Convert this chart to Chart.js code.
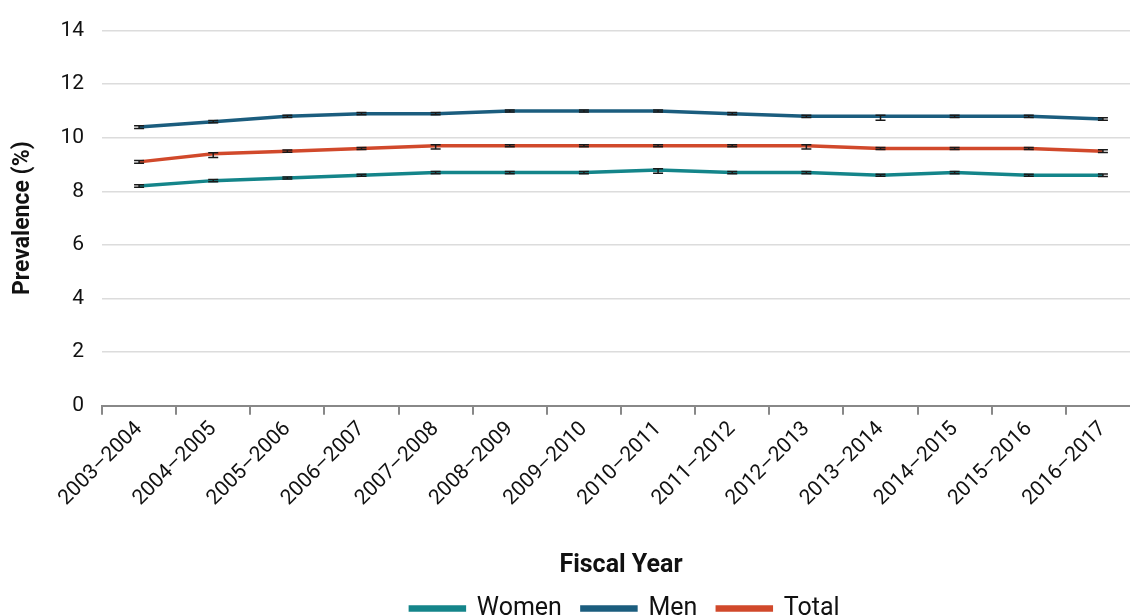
<!DOCTYPE html>
<html><head><meta charset="utf-8">
<script src="https://cdn.jsdelivr.net/npm/chart.js@4.4.1/dist/chart.umd.min.js"></script>
<style>html,body{margin:0;padding:0;overflow:hidden;background:#fff}#wrap{width:1240px;height:615px}</style>
</head><body><div id="wrap"><canvas id="c"></canvas></div>
<script>
const categories = ["2003–2004","2004–2005","2005–2006","2006–2007","2007–2008","2008–2009","2009–2010","2010–2011","2011–2012","2012–2013","2013–2014","2014–2015","2015–2016","2016–2017"];
const women = [8.2,8.4,8.5,8.6,8.7,8.7,8.7,8.8,8.7,8.7,8.6,8.7,8.6,8.6];
const men   = [10.4,10.6,10.8,10.9,10.9,11.0,11.0,11.0,10.9,10.8,10.8,10.8,10.8,10.7];
const total = [9.1,9.4,9.5,9.6,9.7,9.7,9.7,9.7,9.7,9.7,9.6,9.6,9.6,9.5];
const womenLow  = [8.15,8.36,8.46,8.56,8.66,8.66,8.66,8.68,8.66,8.66,8.56,8.66,8.56,8.55];
const womenHigh = [8.25,8.44,8.54,8.64,8.74,8.74,8.74,8.84,8.74,8.74,8.64,8.74,8.64,8.65];
const menLow    = [10.35,10.56,10.76,10.86,10.86,10.96,10.96,10.96,10.86,10.76,10.65,10.76,10.76,10.65];
const menHigh   = [10.45,10.64,10.84,10.94,10.94,11.04,11.04,11.04,10.94,10.84,10.84,10.84,10.84,10.75];
const totalLow  = [9.05,9.26,9.46,9.56,9.58,9.66,9.66,9.66,9.66,9.58,9.56,9.56,9.56,9.45];
const totalHigh = [9.15,9.44,9.54,9.64,9.74,9.74,9.74,9.74,9.74,9.74,9.64,9.64,9.64,9.55];
const yTicks = [0,2,4,6,8,10,12,14];

const errs = [[womenLow,womenHigh],[menLow,menHigh],[totalLow,totalHigh]];
const errorBars = {
  id:'errorBars',
  afterDatasetsDraw(chart){
    const ctx = chart.ctx, y = chart.scales.y;
    ctx.save();
    ctx.strokeStyle = '#1a1a1a'; ctx.lineWidth = 1.5;
    chart.data.datasets.forEach((ds,i)=>{
      const meta = chart.getDatasetMeta(i);
      const [lo,hi] = errs[i];
      meta.data.forEach((pt,j)=>{
        const x = pt.x, y1 = y.getPixelForValue(lo[j]), y2 = y.getPixelForValue(hi[j]);
        ctx.beginPath();
        ctx.moveTo(x,y1); ctx.lineTo(x,y2);
        ctx.moveTo(x-5,y1); ctx.lineTo(x+5,y1);
        ctx.moveTo(x-5,y2); ctx.lineTo(x+5,y2);
        ctx.stroke();
      });
    });
    ctx.restore();
  }
};
const legendShift = {
  id:'legendShift',
  afterLayout(chart){
    const l = chart.legend;
    if (!l) return;
    l.left += 55; l.right += 55;
    l.top -= 5; l.bottom -= 5;
  }
};

const font = "Roboto, 'DejaVu Sans', sans-serif";
new Chart(document.getElementById('c'), {
  type:'line',
  data:{
    labels: categories,
    datasets:[
      {label:'Women', data:women, borderColor:'#14858A', backgroundColor:'#14858A', borderWidth:3.5, pointRadius:0, tension:0},
      {label:'Men', data:men, borderColor:'#1B5D7E', backgroundColor:'#1B5D7E', borderWidth:3.5, pointRadius:0, tension:0},
      {label:'Total', data:total, borderColor:'#D1492B', backgroundColor:'#D1492B', borderWidth:3.5, pointRadius:0, tension:0}
    ]
  },
  options:{
    responsive:true, maintainAspectRatio:false, animation:false,
    layout:{padding:{top:30,right:100,left:0,bottom:-21}},
    plugins:{
      tooltip:{enabled:false},
      legend:{position:'bottom', labels:{boxWidth:54, boxHeight:3, padding:20, color:'#111', font:{family:font, size:25}}}
    },
    scales:{
      x:{
        offset:true,
        grid:{offset:true, drawOnChartArea:false, drawTicks:true, tickLength:9, color:'#888', lineWidth:2},
        border:{display:true, color:'#888', width:2},
        ticks:{maxRotation:45, minRotation:45, color:'#111', font:{family:font, size:21}, padding:2},
        title:{display:true, text:'Fiscal Year', color:'#111', font:{family:font, size:25, weight:'bold'}, padding:{top:38,bottom:0}}
      },
      y:{
        min:0, max:14,
        afterBuildTicks(s){ s.ticks = yTicks.map(v=>({value:v})); },
        afterFit(s){ s.width = 102; },
        grid:{color:'#dcdcdc', lineWidth:1.5, drawTicks:false},
        border:{display:false},
        ticks:{color:'#111', font:{family:font, size:21}, padding:18},
        title:{display:true, text:'Prevalence (%)', color:'#111', font:{family:font, size:23, weight:'bold'}, padding:{top:9,bottom:10}}
      }
    }
  },
  plugins:[errorBars, legendShift]
});
</script></body></html>
